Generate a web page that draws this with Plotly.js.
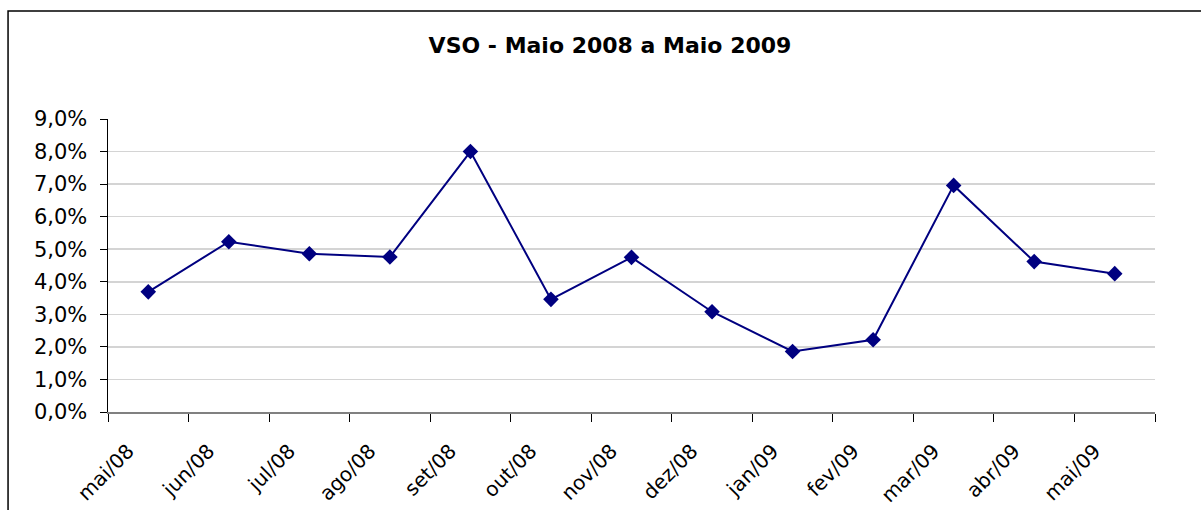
<!DOCTYPE html>
<html>
<head>
<meta charset="utf-8">
<script src="https://cdn.plot.ly/plotly-3.0.1.min.js"></script>
<style>html,body{margin:0;padding:0;background:#fff;}#chart{width:1201px;height:510px;}</style>
</head>
<body>
<div id="chart"></div>
<script>
const categories = ["mai/08","jun/08","jul/08","ago/08","set/08","out/08","nov/08","dez/08","jan/09","fev/09","mar/09","abr/09","mai/09"];
const vsoValues = [0.0369, 0.0523, 0.0486, 0.0476, 0.0800, 0.0346, 0.0475, 0.0308, 0.0186, 0.0222, 0.0696, 0.0462, 0.0425];
const yTickValues = [0, 0.01, 0.02, 0.03, 0.04, 0.05, 0.06, 0.07, 0.08, 0.09];
const chartTitle = "VSO - Maio 2008 a Maio 2009";

const L = 107.5, R = 1155, T = 119, B = 412, W = 1201, H = 510;
const px = v => (v - L) / (R - L);
const py = v => (B - v) / (B - T);

const trace = {
  x: categories,
  y: vsoValues,
  type: 'scatter',
  mode: 'lines+markers',
  line: {color: '#000080', width: 2},
  marker: {symbol: 'diamond', size: 12, color: '#000080'},
  hoverinfo: 'x+y'
};

const layout = {
  width: W, height: H,
  margin: {l: L, r: W - R, t: T, b: H - B, pad: 0},
  paper_bgcolor: '#ffffff',
  plot_bgcolor: '#ffffff',
  separators: ',.',
  showlegend: false,
  font: {family: 'DejaVu Sans, Arial, sans-serif', color: '#000000', size: 20},
  title: {
    text: '<b>' + chartTitle + '</b>',
    font: {family: 'DejaVu Sans, Arial, sans-serif', size: 22, color: '#000000'},
    xref: 'container', yref: 'container',
    x: 610 / W, y: 1 - 45 / H, xanchor: 'center', yanchor: 'middle'
  },
  xaxis: {
    type: 'category',
    categoryorder: 'array',
    categoryarray: categories,
    range: [-0.5, categories.length - 0.5],
    tickson: 'boundaries',
    ticks: 'outside',
    ticklen: 8,
    tickwidth: 1,
    tickcolor: '#000000',
    tickangle: -45,
    ticklabelshift: -20,
    ticklabelstandoff: 18,
    showline: true,
    linecolor: '#808080',
    linewidth: 1.5,
    showgrid: false,
    zeroline: false,
    tickfont: {family: 'DejaVu Sans, Arial, sans-serif', size: 20, color: '#000000'}
  },
  yaxis: {
    range: [0, 0.09],
    tickvals: yTickValues,
    tickformat: '.1%',
    ticks: 'outside',
    ticklen: 7,
    tickwidth: 1,
    tickcolor: '#000000',
    ticklabelstandoff: 8,
    showline: true,
    linecolor: '#000000',
    linewidth: 1.5,
    showgrid: true,
    gridcolor: '#d4d4d4',
    gridwidth: 1.5,
    zeroline: false,
    tickfont: {family: 'DejaVu Sans, Arial, sans-serif', size: 21, color: '#000000'}
  },
  shapes: [{
    type: 'rect', xref: 'paper', yref: 'paper',
    x0: px(7.5), x1: px(1230), y0: py(540), y1: py(11),
    line: {color: '#000000', width: 1.5},
    fillcolor: 'rgba(0,0,0,0)',
    layer: 'below'
  }]
};

Plotly.newPlot('chart', [trace], layout, {displayModeBar: false, staticPlot: true});
</script>
</body>
</html>
